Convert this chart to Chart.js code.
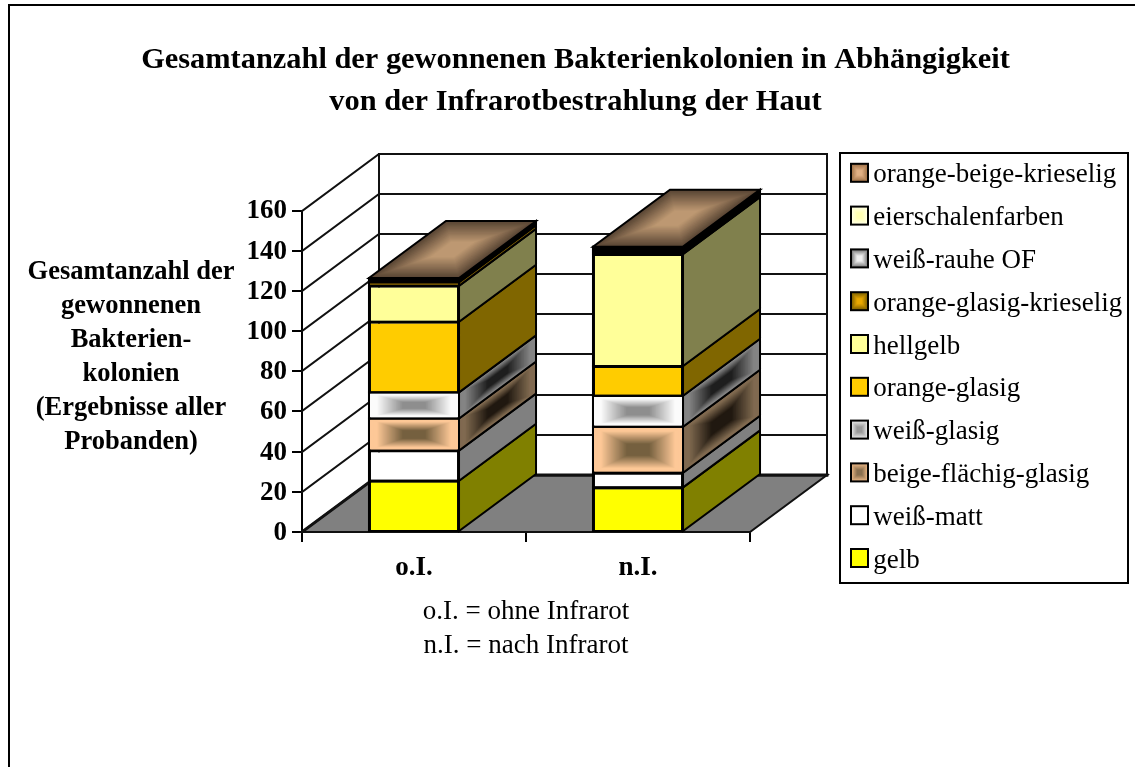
<!DOCTYPE html>
<html><head><meta charset="utf-8">
<style>html,body{margin:0;padding:0;background:#fff}canvas{display:block}</style>
<script src="https://cdn.jsdelivr.net/npm/chart.js@4"></script>
</head><body><canvas id="c" width="1135" height="767"></canvas>
<script>
const categories = ['o.I.', 'n.I.'];
const yTicks = [0, 20, 40, 60, 80, 100, 120, 140, 160];
const seriesNames = ['gelb','weiß-matt','beige-flächig-glasig','weiß-glasig','orange-glasig','hellgelb','orange-glasig-krieselig','weiß-rauhe OF','eierschalenfarben','orange-beige-krieselig'];
const gelb = [25.5, 22.2];
const weissMatt = [15, 7.3];
const beigeFlaechig = [16, 22.9];
const weissGlasig = [13, 15.4];
const orangeGlasig = [35.1, 14.8];
const hellgelb = [17.9, 55.7];
const orangeKrieselig = [1.8, 1];
const weissRauhe = [0.6, 1];
const eierschalen = [0.7, 1];
const orangeBeige = [0.8, 0.7];
const seriesValues = [gelb, weissMatt, beigeFlaechig, weissGlasig, orangeGlasig, hellgelb, orangeKrieselig, weissRauhe, eierschalen, orangeBeige];
const yTitleLines = ['Gesamtanzahl der','gewonnenen','Bakterien-','kolonien','(Ergebnisse aller','Probanden)'];
const chartTitle = ['Gesamtanzahl der gewonnenen Bakterienkolonien in Abhängigkeit','von der Infrarotbestrahlung der Haut'];
const xNote = ['o.I. = ohne Infrarot','n.I. = nach Infrarot'];

// [front edge, front centre, side edge, side centre, swatch edge, swatch centre]
const faceStyles = [
 ['#ffff00','#ffff00','#808000','#808000','#ffff00','#ffff00'],
 ['#ffffff','#ffffff','#808080','#808080','#ffffff','#ffffff'],
 ['#fdc897','#75603f','#806a50','#201810','#e0b080','#8a7050'],
 ['#fbfbfb','#8e8e8e','#848484','#1e1e1e','#e0e0e0','#999999'],
 ['#ffcc00','#ffcc00','#806600','#806600','#ffcc00','#ffcc00'],
 ['#ffff99','#ffff99','#80804d','#80804d','#ffff99','#ffff99'],
 ['#e0a000','#806000','#806000','#403000','#8a6a00','#e8a800'],
 ['#f0f0f0','#888888','#606060','#202020','#8a8a8a','#f0f0f0'],
 ['#ffffcc','#ffffcc','#808066','#808066','#ffffe0','#ffffb0'],
 ['#5c4836','#bd9872','#5c4836','#bd9872','#a87a50','#e0b084']
];
const FONT = '"Liberation Serif","Times New Roman",serif';
const depthX = 77, depthY = -57;

function mix(a,b,t){
  const p=c=>[1,3,5].map(i=>parseInt(c.substr(i,2),16));
  const A=p(a),B=p(b);
  return 'rgb('+A.map((v,i)=>Math.round(v+(B[i]-v)*t)).join(',')+')';
}
function rectGrad(ctx,edge,centre,x,y,w,h,flat){
  const steps=40;
  for(let i=0;i<=steps;i++){
    const t=i/steps, s=1-t*0.74;
    const k=t<flat?0:(t-flat)/(1-flat);
    ctx.fillStyle=mix(edge,centre,k);
    const ww=w*s,hh=h*s;
    ctx.fillRect(x+(w-ww)/2,y+(h-hh)/2,ww,hh);
  }
}
function skewFace(ctx,x,y,w,h,edge,centre,isTop){
  ctx.save();
  if(isTop){
    ctx.transform(1,0,depthX/depthY,1,x,y);
    rectGrad(ctx,edge,centre,0,depthY,w,-depthY,0.05);
  }else{
    ctx.transform(1,depthY/depthX,0,1,x,y);
    rectGrad(ctx,edge,centre,0,0,depthX,h,0.2);
  }
  ctx.restore();
}
function strokePoly(ctx,pts,fill){
  ctx.beginPath();
  pts.forEach((p,i)=>i?ctx.lineTo(p[0],p[1]):ctx.moveTo(p[0],p[1]));
  ctx.closePath();
  if(fill){ctx.fillStyle=fill;ctx.fill();}
  ctx.stroke();
}
const threeD = {
  id:'threeD',
  beforeLayout(chart){
    const lg=chart.legend;
    if(lg&&!lg.__tall){
      const u=lg.update.bind(lg);
      lg.update=(w,h,m)=>u(w,chart.height,m);
      lg.__tall=true;
    }
  },
  afterLayout(chart){
    const lg=chart.legend;
    lg.left=834;lg.right=1134;lg.width=300;lg.top=146;lg.bottom=600;lg.height=454;
    const tb=chart.titleBlock;
    tb.left=16;tb.right=1135;
  },
  beforeDraw(chart){
    const ctx=chart.ctx;
    ctx.save();
    ctx.strokeStyle='#000';ctx.lineWidth=2;
    ctx.beginPath();ctx.moveTo(1135,5);ctx.lineTo(9,5);ctx.lineTo(9,767);ctx.stroke();
    ctx.restore();
  },
  beforeDatasetsDraw(chart){
    const {ctx,scales:{x,y}}=chart;
    const L=x.left,R=x.right,B=y.getPixelForValue(0),T=y.getPixelForValue(160);
    ctx.save();
    ctx.strokeStyle='#111';ctx.lineWidth=2;ctx.lineCap='square';
    strokePoly(ctx,[[L,B],[R,B],[R+depthX,B+depthY],[L+depthX,B+depthY]],'#808080');
    ctx.beginPath();ctx.rect(L+depthX,Math.round(T+depthY),R-L,B-T);ctx.fillStyle='#fff';ctx.fill();ctx.stroke();
    yTicks.forEach(v=>{
      const p=Math.round(y.getPixelForValue(v));
      ctx.beginPath();
      ctx.moveTo(L,p);ctx.lineTo(L+depthX,p+depthY);ctx.lineTo(R+depthX,p+depthY);
      if(v===0){ctx.lineWidth=3;}
      ctx.stroke();ctx.lineWidth=2;
    });
    ctx.restore();
  },
  afterDatasetsDraw(chart){
    const ctx=chart.ctx;
    ctx.save();
    ctx.strokeStyle='#000';ctx.lineWidth=2;ctx.lineJoin='miter';
    const n=chart.data.datasets.length;
    chart.data.datasets.forEach((ds,d)=>{
      const meta=chart.getDatasetMeta(d);
      meta.data.forEach(bar=>{
        const xl=bar.x-bar.width/2,xr=bar.x+bar.width/2,yt=bar.y,yb=bar.base,h=yb-yt;
        const st=faceStyles[d];
        if(h<=6){ctx.fillStyle=st[1];ctx.fillRect(xl,yt,bar.width,h);}
        else if(st[0]!==st[1]){
          rectGrad(ctx,st[0],st[1],xl+1,yt+1,bar.width-2,h-2,0.2);
        }
        ctx.strokeRect(xl,yt,bar.width,h);
        const side=[[xr,yt],[xr+depthX,yt+depthY],[xr+depthX,yb+depthY],[xr,yb]];
        if(st[2]===st[3]||h<=6){strokePoly(ctx,side,st[2]);}
        else{skewFace(ctx,xr,yt,0,h,st[2],st[3],false);strokePoly(ctx,side,null);}
        if(d===n-1){
          skewFace(ctx,xl,yt,bar.width,0,st[0],st[1],true);
          strokePoly(ctx,[[xl,yt],[xr,yt],[xr+depthX,yt+depthY],[xl+depthX,yt+depthY]],null);
        }
      });
    });
    ctx.restore();
  },
  afterDraw(chart){
    const ctx=chart.ctx,lg=chart.legend;
    ctx.save();
    ctx.strokeStyle='#000';ctx.lineWidth=2;
    ctx.strokeRect(840,153,288,430);
    lg.legendItems.forEach((it,i)=>{
      const st=faceStyles[it.datasetIndex];
      const cy=lg.top+26.8+i*42.8;
      rectGrad(ctx,st[4],st[5],851,cy-9,17,18,0.2);
      ctx.strokeRect(851,cy-9,17,18);
    });
    ctx.fillStyle='#000';ctx.font='bold 26.5px '+FONT;ctx.textAlign='center';ctx.textBaseline='middle';
    yTitleLines.forEach((t,i)=>ctx.fillText(t,131,272.5+i*34));
    ctx.restore();
  }
};
new Chart(document.getElementById('c'),{
  type:'bar',
  data:{labels:categories,datasets:seriesValues.map((v,i)=>({
    label:seriesNames[i],data:v,stack:'s',
    backgroundColor:faceStyles[i][0],borderColor:'#000',borderWidth:2,
    categoryPercentage:1,barPercentage:0.402
  }))},
  plugins:[threeD],
  options:{
    responsive:false,animation:false,devicePixelRatio:1,
    layout:{padding:{left:16,right:135,top:0,bottom:0}},
    plugins:{
      title:{display:true,text:chartTitle,color:'#000',font:{family:FONT,size:30.4,weight:'bold',lineHeight:42/30.4},padding:{top:39,bottom:87.5}},
      legend:{display:true,position:'right',align:'start',fullSize:false,maxWidth:250,reverse:true,
        labels:{color:'#000',font:{family:FONT,size:27},boxWidth:10,boxHeight:10,padding:15.8,
          generateLabels(chart){
            return Chart.defaults.plugins.legend.labels.generateLabels(chart).map(it=>Object.assign(it,{fillStyle:'rgba(0,0,0,0)',strokeStyle:'rgba(0,0,0,0)',lineWidth:0}));
          }}},
      tooltip:{enabled:false}
    },
    scales:{
      x:{stacked:true,
        afterFit(s){s.height=235;},
        grid:{drawOnChartArea:false,color:'#000',lineWidth:2,tickLength:10,tickColor:'#000'},
        border:{display:true,color:'#000',width:2},
        ticks:{color:'#000',font:{family:FONT,size:27,weight:'bold'},padding:10,maxRotation:0},
        title:{display:true,text:xNote,color:'#000',font:{family:FONT,size:27,lineHeight:34/27},padding:{top:0,bottom:104.5}}
      },
      y:{stacked:true,min:0,max:160,
        afterFit(s){s.width=286;},
        afterBuildTicks(s){s.ticks=yTicks.map(v=>({value:v}));},
        grid:{drawOnChartArea:false,color:'#000',lineWidth:2,tickLength:10,tickColor:'#000'},
        border:{display:true,color:'#000',width:2},
        ticks:{color:'#000',font:{family:FONT,size:27,weight:'bold'},padding:5,labelOffset:1}
      }
    }
  }
});
</script></body></html>
